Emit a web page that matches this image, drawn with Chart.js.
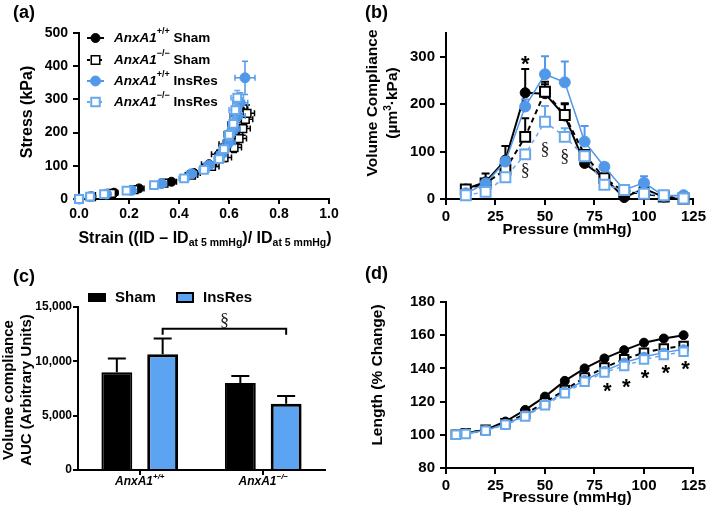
<!DOCTYPE html>
<html><head><meta charset="utf-8">
<script src="https://cdn.jsdelivr.net/npm/chart.js@4.4.1/dist/chart.umd.min.js"></script>
<style>
html,body{margin:0;padding:0;background:#fff}
#wrap{position:relative;width:709px;height:514px;overflow:hidden;font-family:"Liberation Sans",Arial,sans-serif}
canvas{position:absolute}
.pl{position:absolute;font-weight:bold;font-size:18px;line-height:18px;color:#000}
</style></head><body>
<div id="wrap">
<canvas id="ca" width="355" height="250" style="left:0;top:0"></canvas>
<canvas id="cb" width="354" height="250" style="left:355px;top:0"></canvas>
<canvas id="cc" width="355" height="264" style="left:0;top:250px"></canvas>
<canvas id="cd" width="354" height="264" style="left:355px;top:250px"></canvas>
<div class="pl" style="left:13px;top:3px">(a)</div>
<div class="pl" style="left:365px;top:3px">(b)</div>
<div class="pl" style="left:13px;top:267px">(c)</div>
<div class="pl" style="left:365px;top:264px">(d)</div>
</div>
<script>
// ================= DATA =================
// Panel (a): stress-strain
const aStrainWTSham   = [0.00,0.05,0.14,0.24,0.37,0.46,0.52,0.56,0.59,0.61,0.625,0.635,0.645];
const aStressWTSham   = [0,8,19,32,52,78,105,135,165,195,225,250,270];
const aStrainErrWTSham= [0,0.01,0.015,0.02,0.02,0.025,0.03,0.03,0.03,0.03,0.03,0.03,0.03];
const aStressErrWTSham= [0,2,3,4,6,8,10,12,15,18,20,22,25];
const aStrainKOSham   = [0.00,0.05,0.13,0.22,0.34,0.45,0.53,0.58,0.62,0.64,0.655,0.665,0.672];
const aStressKOSham   = [0,7,17,28,48,72,98,125,155,182,212,240,258];
const aStrainErrKOSham= [0,0.01,0.015,0.02,0.02,0.025,0.03,0.03,0.03,0.03,0.03,0.03,0.03];
const aStressErrKOSham= [0,2,3,4,6,8,10,12,15,18,20,22,25];
const aStrainWTIns    = [0.00,0.045,0.11,0.21,0.33,0.45,0.52,0.57,0.60,0.62,0.635,0.645,0.664];
const aStressWTIns    = [0,7,15,26,46,76,102,135,170,210,250,290,365];
const aStrainErrWTIns = [0,0.01,0.015,0.015,0.02,0.02,0.02,0.02,0.025,0.025,0.03,0.03,0.04];
const aStressErrWTIns = [0,2,3,4,5,7,9,12,15,18,22,30,50];
const aStrainKOIns    = [0.00,0.044,0.10,0.19,0.30,0.42,0.50,0.56,0.58,0.60,0.617,0.625,0.633];
const aStressKOIns    = [0,7,15,25,42,62,88,120,150,193,226,268,305];
const aStrainErrKOIns = [0,0.01,0.01,0.015,0.015,0.02,0.02,0.02,0.02,0.02,0.02,0.025,0.025];
const aStressErrKOIns = [0,2,3,4,5,6,8,10,12,15,18,20,22];
const aXTicks = [0,0.2,0.4,0.6,0.8,1.0];

// Panel (b): volume compliance
const bPressure     = [10,20,30,40,50,60,70,80,90,100,110,120];
const bWTSham       = [21,36,82,224,222,175,75,44,3,22,4,1];
const bWTShamErr    = [4,18,30,50,20,25,8,8,3,10,3,2];
const bKOSham       = [20,33,62,131,226,177,93,44,15,11,5,1];
const bKOShamErr    = [3,8,12,39,21,25,10,6,3,3,2,1];
const bWTIns        = [12,33,79,195,263,246,121,68,19,34,7,8];
const bWTInsErr     = [3,6,8,15,38,44,33,8,4,14,3,3];
const bKOIns        = [8,15,46,94,163,131,90,30,19,11,8,1];
const bKOInsErr     = [3,4,6,10,33,18,10,5,3,3,2,1];
const bStarX = [40], bStarY = [296];
const bSectX = [40,50,60], bSectY = [58,103,89];

// Panel (c): AUC bars
const cGroups   = ['AnxA1+/+','AnxA1\u2212/\u2212'];
const cGroupSup = ['+/+','\u2212/\u2212'];
const cSham     = [9000,8000];
const cShamErr  = [1250,650];
const cIns      = [10650,6100];
const cInsErr   = [1450,700];
const cBracketY = 13000, cBracketEnd = 12450, cSectY = 13700;

// Panel (d): length change
const dPressure = [5,10,20,30,40,50,60,70,80,90,100,110,120];
const dWTSham   = [100,101,103,108,115,123,132.5,140,146,151,155.5,158,160];
const dKOSham   = [100,101,103,107,112.5,119.5,127,134.5,140.5,145.5,149.5,152,153.5];
const dWTIns    = [100,100.8,102.8,106.5,111.5,118.5,126,133,138.5,143.5,147,149.5,151.5];
const dKOIns    = [100,100.5,102.5,106,111,117.8,125,132,137.5,141.5,145.3,148,150];
const dStarX = [81.5,91,100.5,111,121];
const dStarY = [129.5,132,137,140,142.5];

// ================= STYLE / HELPERS =================
const FAM = '"Liberation Sans", Arial, sans-serif';
const F = (px, st) => (st || 'bold') + ' ' + px + 'px ' + FAM;
const BLACK = '#000';
const BLUE = 'rgb(82,152,232)';
const LBLUE = 'rgb(104,168,236)';
const BARBLUE = 'rgb(92,164,242)';

function zip(xs, ys){ return xs.map((x,i)=>({x:x, y:ys[i]})); }

function axis(size, tickOpts, extra, tl){
  return Object.assign({
    border:{display:true,color:BLACK,width:2},
    grid:{display:true,drawOnChartArea:false,color:BLACK,lineWidth:2,tickLength:tl||6},
    ticks:Object.assign({color:BLACK,font:{family:FAM,size:size,weight:'bold'},padding:4},tickOpts||{})
  }, extra||{});
}

function drawSegs(ctx,x,y,segs,align){
  let w=0; segs.forEach(s=>{ctx.font=s[1]; w+=ctx.measureText(s[0]).width;});
  let cx = align==='center'? x-w/2 : (align==='right'? x-w : x);
  ctx.textAlign='left';
  segs.forEach(s=>{ctx.font=s[1]; ctx.fillText(s[0],cx,y+(s[2]||0)); cx+=ctx.measureText(s[0]).width;});
}

function errPlugin(sets){
  return {id:'errbars', beforeDatasetDraw(chart,args){
    const set = sets[args.index]; if(!set) return;
    const ctx=chart.ctx, xs=chart.scales.x, ys=chart.scales.y;
    const data=chart.data.datasets[args.index].data;
    const cw=set.cap||4;
    ctx.save(); ctx.strokeStyle=set.color; ctx.lineWidth=set.lw||2; ctx.setLineDash([]);
    args.meta.data.forEach((el,j)=>{
      const d=data[j]; const yv=(typeof d==='object')?d.y:d;
      const px=el.x, py=el.y;
      ctx.beginPath();
      if(set.yerr && set.yerr[j]){
        const t=ys.getPixelForValue(yv+set.yerr[j]);
        const b=set.up?py:ys.getPixelForValue(yv-set.yerr[j]);
        ctx.moveTo(px,b); ctx.lineTo(px,t);
        ctx.moveTo(px-cw,t); ctx.lineTo(px+cw,t);
        if(!set.up){ctx.moveTo(px-cw,b); ctx.lineTo(px+cw,b);}
      }
      if(set.xerr && set.xerr[j]){
        const l=xs.getPixelForValue(d.x-set.xerr[j]), r=xs.getPixelForValue(d.x+set.xerr[j]);
        ctx.moveTo(l,py); ctx.lineTo(r,py);
        ctx.moveTo(l,py-cw); ctx.lineTo(l,py+cw);
        ctx.moveTo(r,py-cw); ctx.lineTo(r,py+cw);
      }
      ctx.stroke();
    });
    ctx.restore();
  }};
}

function textPlugin(items){
  return {id:'txt', afterDraw(chart){
    const ctx=chart.ctx;
    items.forEach(it=>{
      ctx.save(); ctx.translate(it.x,it.y); if(it.rot) ctx.rotate(it.rot);
      ctx.fillStyle=it.color||BLACK; ctx.textBaseline='middle';
      drawSegs(ctx,0,0,it.segs,it.align||'center');
      ctx.restore();
    });
  }};
}

function marksPlugin(items){
  return {id:'marks', afterDatasetsDraw(chart){
    const ctx=chart.ctx, xs=chart.scales.x, ys=chart.scales.y;
    items.forEach(it=>{
      const px=xs.getPixelForValue(it.x), py=ys.getPixelForValue(it.y);
      ctx.save(); ctx.font=it.font; ctx.fillStyle=it.color||BLACK;
      ctx.textAlign='center'; ctx.textBaseline='alphabetic';
      ctx.fillText(it.t, px, py+it.asc);
      ctx.restore();
    });
  }};
}

function drawMarker(ctx, style, r, fill, stroke, bw, x, y){
  ctx.save(); ctx.setLineDash([]); ctx.lineWidth=bw; ctx.fillStyle=fill; ctx.strokeStyle=stroke;
  ctx.beginPath();
  if(style==='rect'){ const s=Math.SQRT1_2*r; ctx.rect(x-s,y-s,2*s,2*s); }
  else { ctx.arc(x,y,r,0,Math.PI*2); }
  ctx.fill(); if(bw) ctx.stroke();
  ctx.restore();
}

function legendPlugin(rows){
  return {id:'lg', afterDraw(chart){
    const ctx=chart.ctx;
    rows.forEach(r=>{
      const ds=chart.data.datasets[r.i];
      ctx.save();
      ctx.strokeStyle=ds.borderColor; ctx.lineWidth=2; ctx.setLineDash(ds.legendDash||[]);
      ctx.beginPath(); ctx.moveTo(r.x0,r.y); ctx.lineTo(r.x1,r.y); ctx.stroke();
      ctx.restore();
      drawMarker(ctx, ds.pointStyle, r.r, ds.pointBackgroundColor, ds.pointBorderColor, ds.pointBorderWidth, (r.x0+r.x1)/2, r.y);
      ctx.save(); ctx.fillStyle=BLACK; ctx.textBaseline='middle';
      drawSegs(ctx, r.tx, r.y, r.segs, 'left');
      ctx.restore();
    });
  }};
}

const gen = (sup, tail) => [["AnxA1",F(13.5,'italic bold')],[sup,F(9,'bold'),-6],[tail,F(13.5,'bold')]];

// ================= PANEL (a) =================
new Chart(document.getElementById('ca'), {
  type:'scatter',
  data:{datasets:[
    {label:'AnxA1+/+ Sham', data:zip(aStrainWTSham,aStressWTSham), pointStyle:'circle', pointRadius:4.5,
     pointBackgroundColor:BLACK, pointBorderColor:BLACK, pointBorderWidth:1, borderColor:BLACK, legendDash:[], order:4, clip:false},
    {label:'AnxA1-/- Sham', data:zip(aStrainKOSham,aStressKOSham), pointStyle:'rect', pointRadius:5.5,
     pointBackgroundColor:'#fff', pointBorderColor:BLACK, pointBorderWidth:1.5, borderColor:BLACK, legendDash:[3,3], order:3, clip:false},
    {label:'AnxA1+/+ InsRes', data:zip(aStrainWTIns,aStressWTIns), pointStyle:'circle', pointRadius:5,
     pointBackgroundColor:BLUE, pointBorderColor:BLUE, pointBorderWidth:1, borderColor:BLUE, legendDash:[], order:2, clip:false},
    {label:'AnxA1-/- InsRes', data:zip(aStrainKOIns,aStressKOIns), pointStyle:'rect', pointRadius:5.5,
     pointBackgroundColor:'#fff', pointBorderColor:LBLUE, pointBorderWidth:2, borderColor:LBLUE, legendDash:[3,3], order:1, clip:false}
  ]},
  options:{
    responsive:false, animation:false, devicePixelRatio:1,
    layout:{padding:{left:0,top:33,right:26,bottom:0}},
    plugins:{legend:{display:false},tooltip:{enabled:false}},
    scales:{
      x:axis(14,{stepSize:0.2,padding:2,callback:v=>Number(v).toFixed(1)},{type:'linear',min:0,max:1,afterFit:s=>{s.height=51;},
        afterBuildTicks:s=>{s.ticks=aXTicks.map(v=>({value:v}));}},5),
      y:axis(14,{stepSize:100,padding:5},{min:0,max:500,afterFit:s=>{s.width=79;}})
    }
  },
  plugins:[
    errPlugin([
      {xerr:aStrainErrWTSham,yerr:aStressErrWTSham,color:BLACK,cap:3,lw:1.5},
      {xerr:aStrainErrKOSham,yerr:aStressErrKOSham,color:BLACK,cap:3,lw:1.5},
      {xerr:aStrainErrWTIns,yerr:aStressErrWTIns,color:BLUE,cap:3,lw:1.5},
      {xerr:aStrainErrKOIns,yerr:aStressErrKOIns,color:LBLUE,cap:3,lw:1.5}
    ]),
    legendPlugin([
      {i:0,x0:87,x1:104,y:38,r:4.5,tx:114,segs:gen('+/+',' Sham')},
      {i:1,x0:87,x1:104,y:60,r:6,tx:114,segs:gen('\u2212/\u2212',' Sham')},
      {i:2,x0:87,x1:104,y:81,r:5,tx:114,segs:gen('+/+',' InsRes')},
      {i:3,x0:87,x1:104,y:102,r:6,tx:114,segs:gen('\u2212/\u2212',' InsRes')}
    ]),
    textPlugin([
      {x:28,y:112,rot:-Math.PI/2,segs:[["Stress (kPa)",F(16)]]},
      {x:205,y:239,segs:[["Strain ((ID \u2013 ID",F(16)],["at 5 mmHg",F(10.5),4],[")/ ID",F(16)],["at 5 mmHg",F(10.5),4],[")",F(16)]]}
    ])
  ]
});

// ================= PANEL (b) =================
new Chart(document.getElementById('cb'), {
  type:'line',
  data:{datasets:[
    {label:'AnxA1+/+ Sham', data:zip(bPressure,bWTSham), borderColor:BLACK, borderWidth:2, pointStyle:'circle', pointRadius:5,
     pointBackgroundColor:BLACK, pointBorderColor:BLACK, pointBorderWidth:1, order:4, clip:false, tension:0},
    {label:'AnxA1-/- Sham', data:zip(bPressure,bKOSham), borderColor:BLACK, borderWidth:2, borderDash:[5,4], pointStyle:'rect', pointRadius:7,
     pointBackgroundColor:'#fff', pointBorderColor:BLACK, pointBorderWidth:2, order:3, clip:false, tension:0},
    {label:'AnxA1+/+ InsRes', data:zip(bPressure,bWTIns), borderColor:BLUE, borderWidth:1.5, pointStyle:'circle', pointRadius:5.5,
     pointBackgroundColor:BLUE, pointBorderColor:BLUE, pointBorderWidth:1, order:2, clip:false, tension:0},
    {label:'AnxA1-/- InsRes', data:zip(bPressure,bKOIns), borderColor:LBLUE, borderWidth:1.5, borderDash:[4,4], pointStyle:'rect', pointRadius:7,
     pointBackgroundColor:'#fff', pointBorderColor:LBLUE, pointBorderWidth:2, order:1, clip:false, tension:0}
  ]},
  options:{
    responsive:false, animation:false, devicePixelRatio:1,
    layout:{padding:{left:0,top:33,right:15,bottom:0}},
    plugins:{legend:{display:false},tooltip:{enabled:false}},
    scales:{
      x:axis(15,{stepSize:25,padding:3},{type:'linear',min:0,max:125,afterFit:s=>{s.height=51;}}),
      y:axis(15,{stepSize:100,padding:5,includeBounds:false},{min:0,max:350,afterFit:s=>{s.width=91;}})
    }
  },
  plugins:[
    errPlugin([
      {yerr:bWTShamErr,up:true,color:BLACK,cap:4},
      {yerr:bKOShamErr,up:true,color:BLACK,cap:4},
      {yerr:bWTInsErr,up:true,color:BLUE,cap:4},
      {yerr:bKOInsErr,up:true,color:LBLUE,cap:4}
    ]),
    marksPlugin([].concat(
      bStarX.map((x,i)=>({x:x,y:bStarY[i],t:'*',font:F(22),asc:12})),
      bSectX.map((x,i)=>({x:x,y:bSectY[i],t:'\u00a7',font:'18px "Liberation Serif", serif',color:'#222',asc:5}))
    )),
    textPlugin([
      {x:18,y:103,rot:-Math.PI/2,segs:[["Volume Compliance",F(15.5)]]},
      {x:38,y:103,rot:-Math.PI/2,segs:[["(\u00b5m",F(15.5)],["3",F(10),-5],["\u00b7kPa)",F(15.5)]]},
      {x:212,y:230,segs:[["Pressure (mmHg)",F(15.5)]]}
    ])
  ]
});

// ================= PANEL (c) =================
new Chart(document.getElementById('cc'), {
  type:'bar',
  data:{labels:cGroups, datasets:[
    {label:'Sham', data:cSham, backgroundColor:BLACK, borderColor:BLACK, borderWidth:2, categoryPercentage:0.742, barPercentage:0.674},
    {label:'InsRes', data:cIns, backgroundColor:BARBLUE, borderColor:BLACK, borderWidth:3, categoryPercentage:0.742, barPercentage:0.674}
  ]},
  options:{
    responsive:false, animation:false, devicePixelRatio:1,
    layout:{padding:{left:0,top:57,right:30,bottom:0}},
    plugins:{legend:{display:false},tooltip:{enabled:false}},
    scales:{
      x:axis(12,{callback:()=>''},{grid:{display:true,drawOnChartArea:false,color:BLACK,lineWidth:2,tickLength:5,offset:false},afterFit:s=>{s.height=44;}}),
      y:axis(12,{stepSize:5000,padding:1,callback:v=>Number(v).toLocaleString('en-US')},{min:0,max:15000,afterFit:s=>{s.width=78;}},5)
    }
  },
  plugins:[
    errPlugin([
      {yerr:cShamErr,up:true,color:BLACK,cap:9},
      {yerr:cInsErr,up:true,color:BLACK,cap:9}
    ]),
    {id:'cAnn', afterDraw(chart){
      const ctx=chart.ctx, xs=chart.scales.x, ys=chart.scales.y;
      const m=chart.getDatasetMeta(1);
      const x1=m.data[0].x, x2=m.data[1].x;
      const yb=ys.getPixelForValue(cBracketY), ye=ys.getPixelForValue(cBracketEnd);
      ctx.save(); ctx.strokeStyle=BLACK; ctx.lineWidth=2;
      ctx.beginPath(); ctx.moveTo(x1,ye); ctx.lineTo(x1,yb); ctx.lineTo(x2,yb); ctx.lineTo(x2,ye); ctx.stroke();
      ctx.font='18px "Liberation Serif", serif'; ctx.fillStyle='#222'; ctx.textAlign='center'; ctx.textBaseline='alphabetic';
      ctx.fillText('\u00a7',(x1+x2)/2, ys.getPixelForValue(cSectY)+5);
      // category labels
      ctx.fillStyle=BLACK; ctx.textBaseline='middle';
      cGroups.forEach((g,i)=>{ drawSegs(ctx, xs.getPixelForValue(i), 232, [["AnxA1",F(12,'italic bold')],[cGroupSup[i],F(8,'italic bold'),-5]], 'center'); });
      // legend
      const dsets=chart.data.datasets;
      ctx.fillStyle=dsets[0].backgroundColor; ctx.fillRect(88,43,18,9);
      ctx.fillStyle=dsets[1].backgroundColor; ctx.fillRect(177,43,16,9);
      ctx.strokeStyle=BLACK; ctx.lineWidth=2; ctx.strokeRect(177,43,16,9);
      ctx.fillStyle=BLACK; ctx.font=F(15); ctx.textAlign='left';
      ctx.fillText(dsets[0].label,115,48); ctx.fillText(dsets[1].label,203,48);
      ctx.restore();
    }},
    textPlugin([
      {x:9,y:140,rot:-Math.PI/2,segs:[["Volume compliance",F(15)]]},
      {x:27,y:140,rot:-Math.PI/2,segs:[["AUC (Arbitrary Units)",F(15)]]}
    ])
  ]
});

// ================= PANEL (d) =================
new Chart(document.getElementById('cd'), {
  type:'line',
  data:{datasets:[
    {label:'AnxA1+/+ Sham', data:zip(dPressure,dWTSham), borderColor:BLACK, borderWidth:2, pointStyle:'circle', pointRadius:4.5,
     pointBackgroundColor:BLACK, pointBorderColor:BLACK, pointBorderWidth:1, order:4, clip:false, tension:0},
    {label:'AnxA1-/- Sham', data:zip(dPressure,dKOSham), borderColor:BLACK, borderWidth:2, borderDash:[5,4], pointStyle:'rect', pointRadius:6,
     pointBackgroundColor:'#fff', pointBorderColor:BLACK, pointBorderWidth:2, order:3, clip:false, tension:0},
    {label:'AnxA1+/+ InsRes', data:zip(dPressure,dWTIns), borderColor:BLUE, borderWidth:1.5, pointStyle:'circle', pointRadius:4.5,
     pointBackgroundColor:BLUE, pointBorderColor:BLUE, pointBorderWidth:1, order:2, clip:false, tension:0},
    {label:'AnxA1-/- InsRes', data:zip(dPressure,dKOIns), borderColor:LBLUE, borderWidth:1.5, borderDash:[4,4], pointStyle:'rect', pointRadius:6,
     pointBackgroundColor:'#fff', pointBorderColor:LBLUE, pointBorderWidth:2, order:1, clip:false, tension:0}
  ]},
  options:{
    responsive:false, animation:false, devicePixelRatio:1,
    layout:{padding:{left:0,top:52,right:15,bottom:0}},
    plugins:{legend:{display:false},tooltip:{enabled:false}},
    scales:{
      x:axis(15,{stepSize:25,padding:3},{type:'linear',min:0,max:125,afterFit:s=>{s.height=46;}}),
      y:axis(15,{stepSize:20,padding:5},{min:80,max:180,afterFit:s=>{s.width=91;}})
    }
  },
  plugins:[
    marksPlugin(dStarX.map((x,i)=>({x:x,y:dStarY[i],t:'*',font:F(22),asc:12}))),
    textPlugin([
      {x:23,y:125,rot:-Math.PI/2,segs:[["Length (% Change)",F(15.5)]]},
      {x:212,y:248,segs:[["Pressure (mmHg)",F(15.5)]]}
    ])
  ]
});
</script>
</body></html>
